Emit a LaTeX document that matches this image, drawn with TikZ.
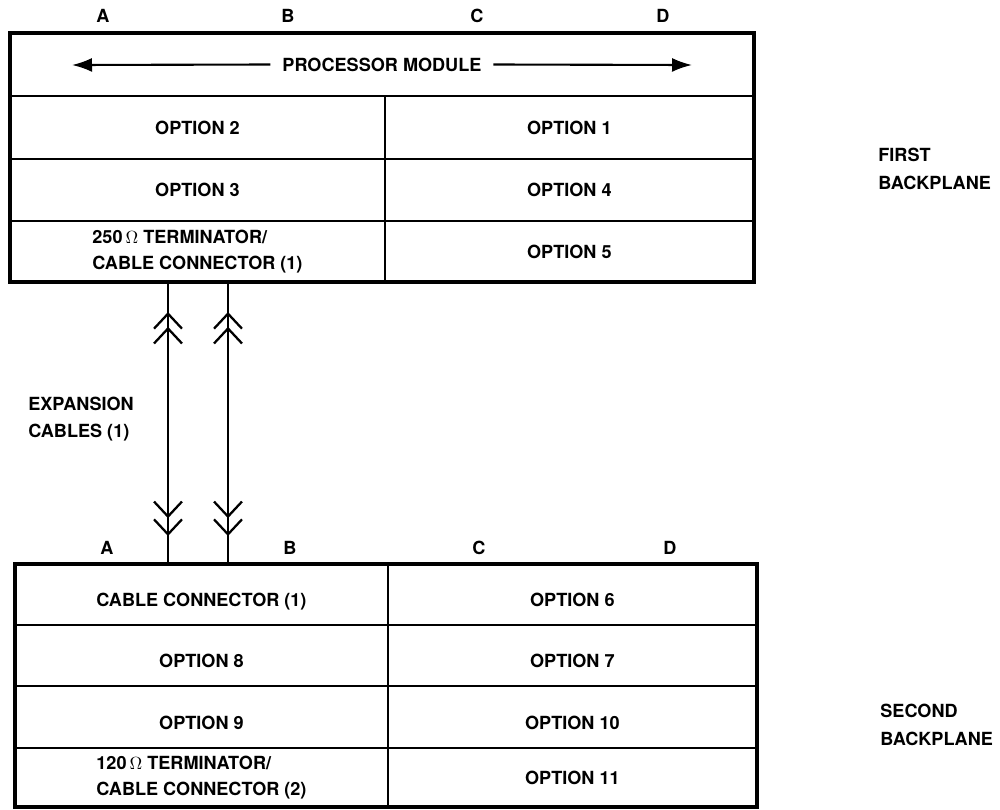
\documentclass[tikz,border=0pt]{standalone}
\usepackage{fontspec}
\setsansfont{TeX Gyre Heros}
\usetikzlibrary{arrows.meta,positioning}
\tikzset{
cell/.style={draw, line width=1.1pt, anchor=north west, inner sep=0pt, outer sep=0pt, align=center, font=\sffamily\bfseries\fontsize{10.3}{14.5}\selectfont},
sunk/.style={text height=14pt, text depth=0pt},
frame/.style={line width=2pt},
colname/.style={font=\sffamily\bfseries\fontsize{10.3}{12}\selectfont},
side/.style={align=left, anchor=west, inner sep=0pt, font=\sffamily\bfseries\fontsize{10.3}{15.5}\selectfont},
cable/.style={line width=1.3pt},
plug/.style={line width=1.3pt, {Straight Barb[length=3mm,width=5.6mm,sep=-0.6mm]Straight Barb[length=3mm,width=5.6mm]}-{Straight Barb[length=3mm,width=5.6mm,sep=-0.6mm]Straight Barb[length=3mm,width=5.6mm]}},
bus/.style={line width=1.2pt, -{Latex[length=4mm,width=2.8mm]}}
}
\begin{document}
\begin{tikzpicture}[x=0.02cm,y=-0.02cm]
\useasboundingbox (0,0) rectangle (1000,809);
% first backplane
\node[cell, minimum width=14.88cm, minimum height=1.26cm] (proc) at (10,33) {};
\node[cell, minimum width=7.5cm, minimum height=1.26cm] (opt2) at (proc.south west) {OPTION 2};
\node[cell, minimum width=7.38cm, minimum height=1.26cm] (opt1) at (opt2.north east) {OPTION 1};
\node[cell, minimum width=7.5cm, minimum height=1.24cm] (opt3) at (opt2.south west) {OPTION 3};
\node[cell, minimum width=7.38cm, minimum height=1.24cm] (opt4) at (opt3.north east) {OPTION 4};
\node[cell, align=left, minimum width=7.5cm, minimum height=1.22cm] (term1) at (opt3.south west) {250\,$\Omega$ TERMINATOR/\\CABLE CONNECTOR (1)};
\node[cell, minimum width=7.38cm, minimum height=1.22cm] (opt5) at (term1.north east) {OPTION 5};
\draw[frame] (proc.north west) rectangle (opt5.south east);
\node[colname, inner sep=6.6pt] (pm) at (proc.center) {PROCESSOR MODULE};
\coordinate (busL) at (72,65);
\coordinate (busR) at (692,65);
\draw[bus] (pm.west) -- (busL);
\draw[bus] (pm.east) -- (busR);
% second backplane
\node[cell, sunk, minimum width=7.46cm, minimum height=1.22cm] (ccon) at (15,564) {CABLE CONNECTOR (1)};
\node[cell, sunk, minimum width=7.38cm, minimum height=1.22cm] (opt6) at (ccon.north east) {OPTION 6};
\node[cell, sunk, minimum width=7.46cm, minimum height=1.22cm] (opt8) at (ccon.south west) {OPTION 8};
\node[cell, sunk, minimum width=7.38cm, minimum height=1.22cm] (opt7) at (opt8.north east) {OPTION 7};
\node[cell, sunk, minimum width=7.46cm, minimum height=1.24cm] (opt9) at (opt8.south west) {OPTION 9};
\node[cell, sunk, minimum width=7.38cm, minimum height=1.24cm] (opt10) at (opt9.north east) {OPTION 10};
\node[cell, align=left, minimum width=7.46cm, minimum height=1.18cm] (term2) at (opt9.south west) {120\,$\Omega$ TERMINATOR/\\CABLE CONNECTOR (2)};
\node[cell, minimum width=7.38cm, minimum height=1.18cm] (opt11) at (term2.north east) {OPTION 11};
\draw[frame] (ccon.north west) rectangle (opt11.south east);
% slot letters
\node[colname] (tA) at (103,16) {A};
\node[colname] (tB) at (288,16) {B};
\node[colname] (tC) at (477,16) {C};
\node[colname] (tD) at (663,16) {D};
\node[colname] (bA) at (107,548) {A};
\node[colname] (bB) at (290,548) {B};
\node[colname] (bC) at (479,548) {C};
\node[colname] (bD) at (670,548) {D};
% expansion cables
\coordinate (c1top) at (168,282);
\coordinate (c1bot) at (168,564);
\coordinate (c2top) at (228,282);
\coordinate (c2bot) at (228,564);
\coordinate (c1up) at (168,312);
\coordinate (c1dn) at (168,533);
\coordinate (c2up) at (228,312);
\coordinate (c2dn) at (228,533);
\draw[cable] (c1top) -- (c1bot);
\draw[cable] (c2top) -- (c2bot);
\draw[plug] (c1dn) -- (c1up);
\draw[plug] (c2dn) -- (c2up);
% side labels
\node[side] (exp) at (28,419) {EXPANSION\\CABLES (1)};
\node[side] (first) at (878,169) {FIRST\\BACKPLANE};
\node[side] (second) at (880,725) {SECOND\\BACKPLANE};
\end{tikzpicture}
\end{document}
